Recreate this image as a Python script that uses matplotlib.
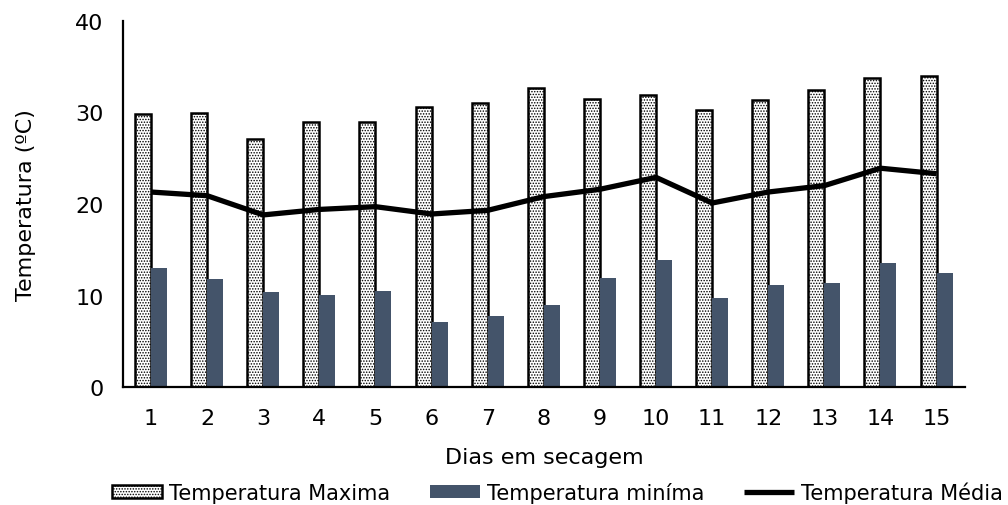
import matplotlib
matplotlib.use("Agg")
import matplotlib.pyplot as plt
import numpy as np

days = [str(i) for i in range(1, 16)]
temp_max = [29.8, 29.9, 27.1, 28.9, 28.9, 30.6, 31.0, 32.7, 31.5, 31.9, 30.3, 31.4, 32.4, 33.8, 34.0]
temp_min = [13.0, 11.8, 10.4, 10.1, 10.5, 7.1, 7.8, 9.0, 11.9, 13.9, 9.7, 11.2, 11.4, 13.6, 12.5]
temp_med = [21.3, 20.9, 18.8, 19.4, 19.7, 18.9, 19.3, 20.8, 21.6, 22.9, 20.1, 21.3, 22.0, 23.9, 23.3]

plt.rcParams['font.family'] = ['DejaVu Sans']
plt.rcParams['hatch.linewidth'] = 0.7

fig = plt.figure(figsize=(10.08, 5.06), dpi=100)
ax = fig.add_axes([0.122, 0.233, 0.835, 0.724])

FS = 16
x = np.arange(len(days))
w = 0.285
h1 = ax.bar(x - w / 2, temp_max, width=w, facecolor='white', edgecolor='black',
            hatch='......', linewidth=1.8, label='Temperatura Maxima', zorder=2)
h2 = ax.bar(x + w / 2, temp_min, width=w, color='#44546A', label='Temperatura miníma', zorder=2)
h3, = ax.plot(x, temp_med, color='black', linewidth=3.8, solid_capstyle='butt',
              label='Temperatura Média', zorder=3)

ax.set_xlim(-0.5, len(days) - 0.5)
ax.set_ylim(0, 40)
ax.set_yticks([0, 10, 20, 30, 40])
ax.set_xticks(x)
ax.set_xticklabels(days)
ax.tick_params(axis='both', length=0, labelsize=FS, colors='black')
ax.tick_params(axis='y', pad=14)
ax.tick_params(axis='x', pad=15)
for s in ['top', 'right']:
    ax.spines[s].set_visible(False)
for s in ['left', 'bottom']:
    ax.spines[s].set_linewidth(1.6)
    ax.spines[s].set_color('black')

ax.set_xlabel('Dias em secagem', fontsize=FS, labelpad=14)
ax.set_ylabel('Temperatura (ºC)', fontsize=FS, labelpad=28)

fig.legend(handles=[h1, h2, h3], loc='center', bbox_to_anchor=(0.553, 0.025), ncol=3,
           frameon=False, fontsize=15, handlelength=2.4, handleheight=0.6,
           handletextpad=0.35, columnspacing=1.9, borderaxespad=0)

fig.savefig('out.png', dpi=100)
